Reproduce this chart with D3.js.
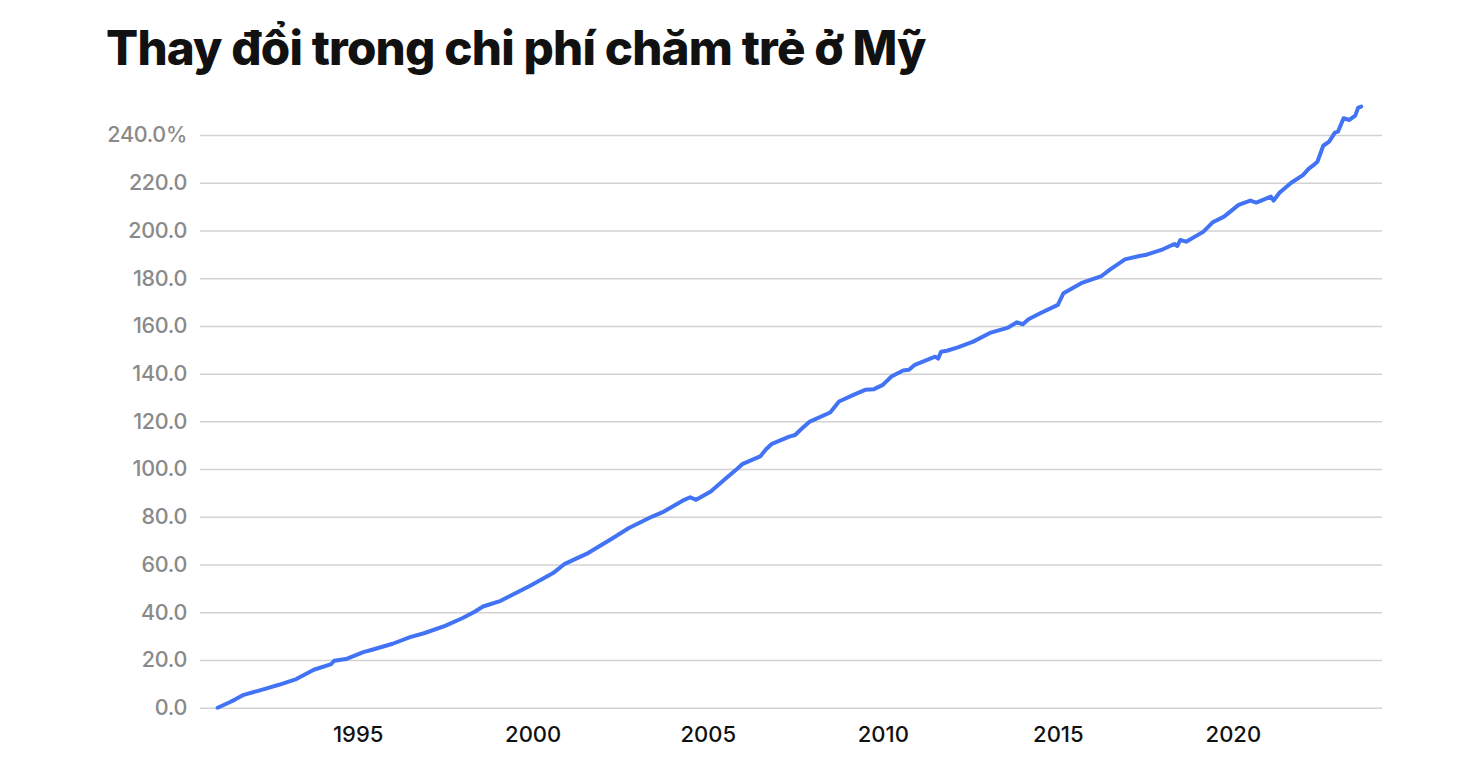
<!DOCTYPE html>
<html>
<head>
<meta charset="utf-8">
<script src="https://cdn.jsdelivr.net/npm/d3@7"></script>
<style>
  html, body { margin: 0; padding: 0; background: #fff; }
  svg { display: block; }
</style>
</head>
<body>
<svg id="chart" width="1466" height="768"></svg>
<script>
const titleText = "Thay đổi trong chi phí chăm trẻ ở Mỹ";

const months = [
  "1991-01","1991-05","1991-07","1991-10","1992-05","1992-10","1993-04","1993-10",
  "1994-04","1994-05","1994-09","1995-03","1995-06","1996-01","1996-07","1996-12",
  "1997-07","1998-01","1998-05","1998-08","1999-02","1999-12","2000-08","2000-12",
  "2001-08","2002-04","2002-10","2003-06","2003-10","2004-05","2004-07","2004-09",
  "2005-02","2005-07","2005-11","2006-01","2006-07","2006-09","2006-11","2007-05",
  "2007-07","2007-09","2007-12","2008-07","2008-10","2009-03","2009-07","2009-10",
  "2010-01","2010-04","2010-08","2010-10","2010-12","2011-07","2011-08","2011-09",
  "2011-11","2012-03","2012-08","2013-02","2013-08","2013-11","2014-01","2014-03",
  "2014-07","2015-01","2015-03","2015-09","2016-04","2016-07","2016-12","2017-05",
  "2017-07","2018-01","2018-05","2018-06","2018-07","2018-09","2019-03","2019-06",
  "2019-10","2020-03","2020-07","2020-09","2021-02","2021-03","2021-05","2021-09",
  "2022-01","2022-03","2022-05","2022-06","2022-08","2022-10","2022-12","2023-01",
  "2023-03","2023-05","2023-07","2023-08","2023-09"
];

const changePct = [
  0, 2.2, 3.4, 5.4, 7.8, 9.6, 12.0, 15.9,
  18.3, 19.7, 20.4, 23.3, 24.3, 26.8, 29.6, 31.3,
  34.3, 37.6, 40.1, 42.4, 44.8, 51.0, 56.4, 60.3,
  64.8, 70.7, 75.3, 80.1, 82.2, 87.1, 88.2, 87.1,
  90.6, 95.8, 100.0, 102.2, 105.3, 108.3, 110.6, 113.6,
  114.3, 116.7, 119.9, 123.7, 128.3, 131.1, 133.2, 133.5,
  135.3, 138.8, 141.3, 141.6, 143.7, 147.1, 146.3, 149.2,
  149.6, 151.1, 153.4, 157.2, 159.3, 161.5, 160.7, 162.8,
  165.3, 168.8, 173.7, 177.9, 180.9, 183.7, 187.9, 189.3,
  189.7, 192.1, 194.3, 193.5, 196.0, 195.3, 199.5, 203.3,
  205.8, 210.7, 212.5, 211.7, 214.2, 212.5, 215.8, 220.0,
  223.2, 225.8, 227.7, 228.8, 235.5, 237.2, 241.0, 241.4,
  247.0, 246.3, 248.1, 251.5, 251.9
];

const yTicks = [0, 20, 40, 60, 80, 100, 120, 140, 160, 180, 200, 220, 240];
const xTickYears = [1995, 2000, 2005, 2010, 2015, 2020];

(function () {
const parse = d3.timeParse("%Y-%m");
const data = months.map((m, i) => ({ date: parse(m), value: changePct[i] }));

const svg = d3.select("#chart");
const mLeft = 200, mRight = 1382, mTop = 135, mBottom = 707.7;

const x = d3.scaleTime()
  .domain([new Date(1990, 6, 1), new Date(2024, 3, 5)])
  .range([mLeft, mRight]);
const y = d3.scaleLinear()
  .domain([0, 240])
  .range([mBottom, mTop]);

// Title
const title = svg.append("text")
  .attr("x", 106)
  .attr("y", 65)
  .attr("font-family", "Inter, 'Noto Sans', sans-serif")
  .attr("font-weight", 800)
  .attr("font-size", 46)
  .attr("letter-spacing", "-0.8px")
  .attr("fill", "#111")
  .text(titleText);
const tw = title.node().getComputedTextLength();
title.attr("font-size", 46 * 819 / tw);

// Y axis with gridlines
const yAxis = d3.axisLeft(y)
  .tickValues(yTicks)
  .tickSize(-(mRight - mLeft))
  .tickPadding(13)
  .tickFormat(d => d === 240 ? d3.format(".1f")(d) + "%" : d3.format(".1f")(d));

const gy = svg.append("g")
  .attr("transform", `translate(${mLeft},0)`)
  .call(yAxis);
gy.select(".domain").remove();
gy.selectAll(".tick line")
  .attr("stroke", "#d2d2d2")
  .attr("stroke-width", 1.5);
gy.selectAll(".tick text")
  .attr("fill", "#8a8a8a")
  .attr("font-family", "Inter, 'Noto Sans', sans-serif")
  .attr("font-weight", 500)
  .attr("font-size", 21.5)
  .attr("letter-spacing", "-0.3px");

// X axis
const xAxis = d3.axisBottom(x)
  .tickValues(xTickYears.map(yr => new Date(yr, 0, 1)))
  .tickSize(0)
  .tickPadding(19)
  .tickFormat(d3.timeFormat("%Y"));
const gx = svg.append("g")
  .attr("transform", `translate(0,${mBottom})`)
  .call(xAxis);
gx.select(".domain").remove();
gx.selectAll(".tick text")
  .attr("fill", "#111")
  .attr("font-family", "Inter, 'Noto Sans', sans-serif")
  .attr("font-weight", 500)
  .attr("font-size", 22);

// Line
const line = d3.line()
  .x(d => x(d.date))
  .y(d => y(d.value));

svg.append("path")
  .datum(data)
  .attr("fill", "none")
  .attr("stroke", "#4173f4")
  .attr("stroke-width", 4)
  .attr("stroke-linejoin", "round")
  .attr("stroke-linecap", "round")
  .attr("d", line);
})();
</script>
</body>
</html>
